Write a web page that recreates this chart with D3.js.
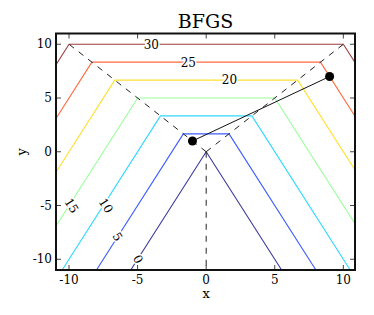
<!DOCTYPE html>
<html>
<head>
<meta charset="utf-8">
<script src="https://cdn.jsdelivr.net/npm/d3@7"></script>
<style>
	body { margin: 0; background: #fff; }
	svg { display: block; font-family: 'DejaVu Serif', serif; }
	.tick-label { font-size: 12px; fill: #000; }
	.contour-label { font-size: 12px; fill: #000; stroke: #fff; stroke-width: 3px; paint-order: stroke; }
</style>
</head>
<body>
<div id="chart"></div>
<script>
let width = 374
let height = 315

// contour levels of f(x, y) = max(3y, y + 2|x|)
let levels = [0, 5, 10, 15, 20, 25, 30]
let levelColors = ['#3c3ca0', '#3c5cff', '#30d8ff', '#98ff98', '#ffe030', '#ff6a40', '#a03c3c']
let topSlope = 3
let flankSlope = 2

// where each level's label sits
let labelX = [-4.95, -6.45, -7.3, -9.8, 1.7, -1.3, -4.0]
let labelY = [-10, -7.9, -5, -5, 6.67, 8.33, 10]

// ridge lines (dashed), from the origin
let ridgeEnds = [[-10, 10], [10, 10], [0, -11]]

// optimiser steps
let stepX = [9, -1]
let stepY = [7, 1]

let xTicks = [-10, -5, 0, 5, 10]
let yTicks = [-10, -5, 0, 5, 10]

let x = d3.scaleLinear().domain([-10.95, 10.85]).range([56, 355])
let y = d3.scaleLinear().domain([-11, 11]).range([270, 33.5])

let svg = d3.select('#chart')
	.append('svg')
	.attr('width', width)
	.attr('height', height)

svg.append('clipPath')
	.attr('id', 'plot-clip')
	.append('rect')
	.attr('x', x.range()[0])
	.attr('y', y.range()[1])
	.attr('width', x.range()[1] - x.range()[0])
	.attr('height', y.range()[0] - y.range()[1])

let plot = svg.append('g')
	.attr('clip-path', 'url(#plot-clip)')

let line = d3.line()
	.x(d => x(d[0]))
	.y(d => y(d[1]))

// level c: flat top at y = c/3 for |x| <= c/3, flanks y = c - 2|x| below
let yMin = y.domain()[0]
let contourPts = c => {
	let k = c / topSlope
	let xb = (c - yMin) / flankSlope
	return [[-xb, yMin], [-k, k], [k, k], [xb, yMin]]
}

plot.selectAll('.contour')
	.data(levels)
	.enter()
	.append('path')
	.attr('class', 'contour')
	.attr('d', d => line(contourPts(d)))
	.attr('fill', 'none')
	.attr('stroke', (d, i) => levelColors[i])
	.attr('stroke-width', 1.1)

plot.selectAll('.ridge')
	.data(ridgeEnds)
	.enter()
	.append('path')
	.attr('class', 'ridge')
	.attr('d', d => line([[0, 0], d]))
	.attr('fill', 'none')
	.attr('stroke', '#222')
	.attr('stroke-width', 1)
	.attr('stroke-dasharray', '6,6')

let steps = stepX.map((v, i) => [v, stepY[i]])

plot.append('path')
	.datum(steps)
	.attr('d', line)
	.attr('fill', 'none')
	.attr('stroke', '#111')
	.attr('stroke-width', 1)

plot.selectAll('.step')
	.data(steps)
	.enter()
	.append('circle')
	.attr('cx', d => x(d[0]))
	.attr('cy', d => y(d[1]))
	.attr('r', 4.5)
	.attr('fill', '#000')

// flank angle on screen
let flankAngle = Math.atan2(y(0) - y(flankSlope), x(1) - x(0)) * 180 / Math.PI

svg.append('g')
	.selectAll('text')
	.data(levels)
	.enter()
	.append('text')
	.attr('class', 'contour-label')
	.attr('text-anchor', 'middle')
	.attr('dy', '0.36em')
	.attr('transform', (d, i) => {
		let onTop = labelY[i] > Math.abs(labelX[i]) + 0.01
		let a = onTop ? 0 : flankAngle
		return `translate(${x(labelX[i])},${y(labelY[i])}) rotate(${a})`
	})
	.text(d => d)

// ticks on all four sides, pointing in
let tickLen = 5
let ticks = svg.append('g')
	.attr('stroke', '#444')
	.attr('stroke-width', 1)

xTicks.forEach(t => {
	ticks.append('line').attr('x1', x(t)).attr('x2', x(t)).attr('y1', y.range()[0]).attr('y2', y.range()[0] - tickLen)
	ticks.append('line').attr('x1', x(t)).attr('x2', x(t)).attr('y1', y.range()[1]).attr('y2', y.range()[1] + tickLen)
})
yTicks.forEach(t => {
	ticks.append('line').attr('y1', y(t)).attr('y2', y(t)).attr('x1', x.range()[0]).attr('x2', x.range()[0] + tickLen)
	ticks.append('line').attr('y1', y(t)).attr('y2', y(t)).attr('x1', x.range()[1]).attr('x2', x.range()[1] - tickLen)
})

svg.append('g')
	.selectAll('text')
	.data(xTicks)
	.enter()
	.append('text')
	.attr('class', 'tick-label')
	.attr('x', d => x(d))
	.attr('y', y.range()[0] + 14)
	.attr('text-anchor', 'middle')
	.text(d => d < 0 ? '-' + Math.abs(d) : d)

svg.append('g')
	.selectAll('text')
	.data(yTicks)
	.enter()
	.append('text')
	.attr('class', 'tick-label')
	.attr('x', x.range()[0] - 4)
	.attr('y', d => y(d) + 4)
	.attr('text-anchor', 'end')
	.text(d => d < 0 ? '-' + Math.abs(d) : d)

svg.append('rect')
	.attr('x', x.range()[0])
	.attr('y', y.range()[1])
	.attr('width', x.range()[1] - x.range()[0])
	.attr('height', y.range()[0] - y.range()[1])
	.attr('fill', 'none')
	.attr('stroke', '#111')
	.attr('stroke-width', 2)

svg.append('text')
	.attr('x', (x.range()[0] + x.range()[1]) / 2)
	.attr('y', 28)
	.attr('text-anchor', 'middle')
	.style('font-size', '19px')
	.text('BFGS')

svg.append('text')
	.attr('x', x(0))
	.attr('y', 298)
	.attr('text-anchor', 'middle')
	.style('font-size', '13px')
	.text('x')

svg.append('text')
	.attr('transform', `translate(26,${y(0)}) rotate(-90)`)
	.attr('text-anchor', 'middle')
	.style('font-size', '13px')
	.text('y')
</script>
</body>
</html>
